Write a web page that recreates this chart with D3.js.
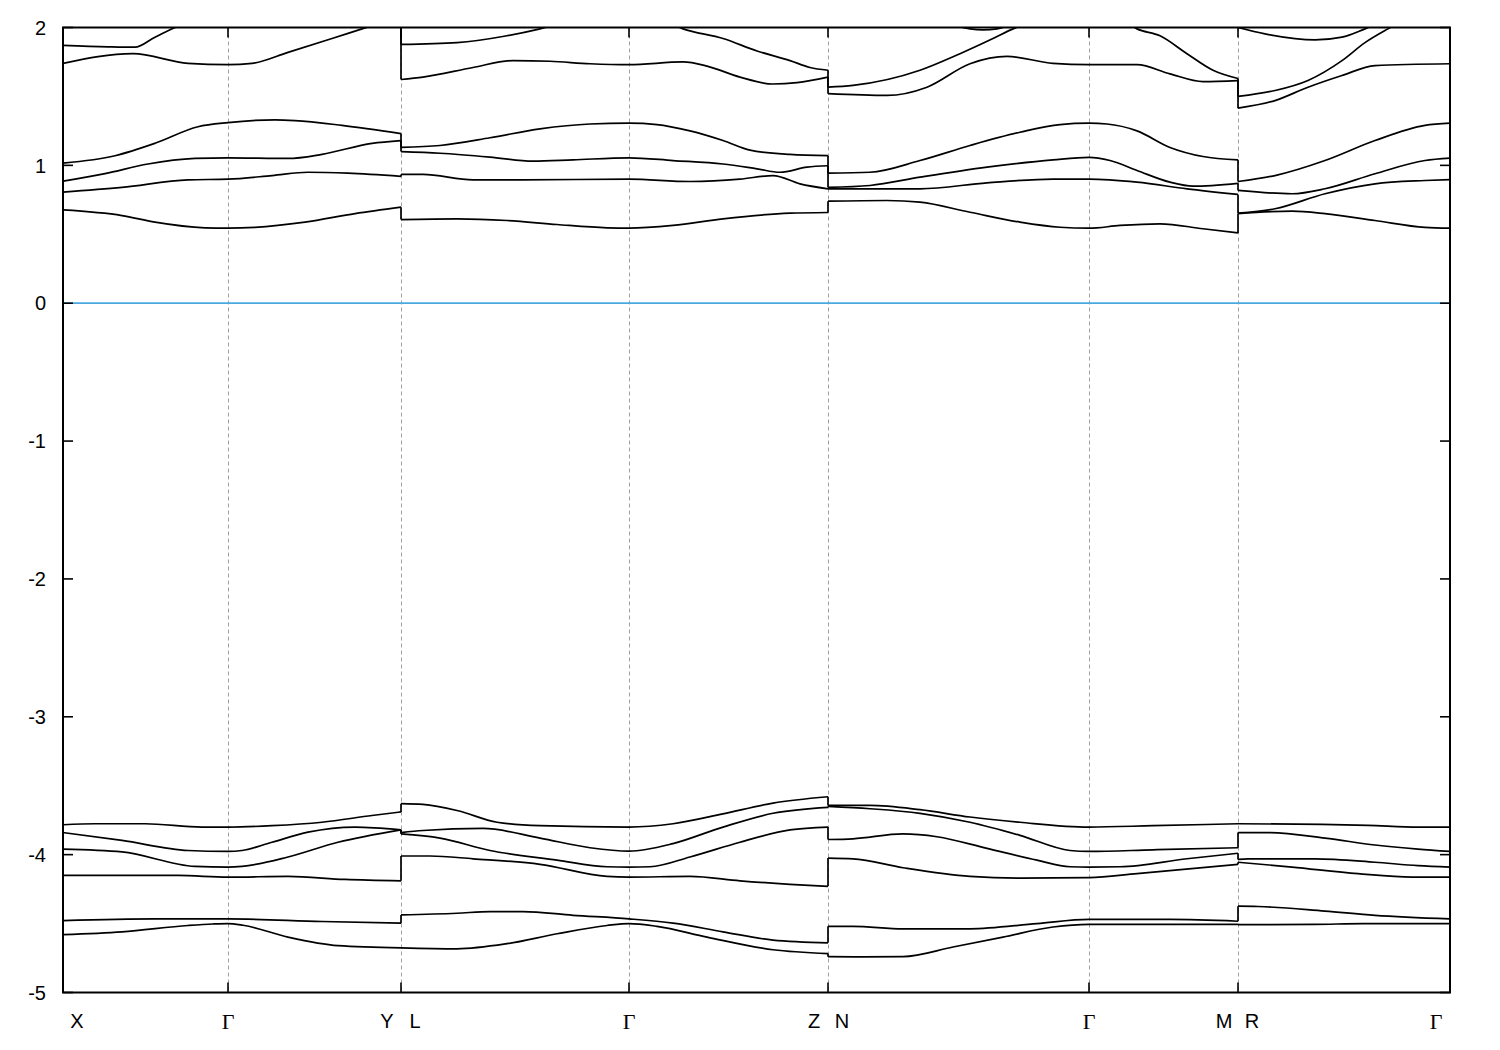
<!DOCTYPE html>
<html>
<head>
<meta charset="utf-8">
<script src="https://cdn.jsdelivr.net/npm/d3@7/dist/d3.min.js"></script>
<style>
  html, body { margin: 0; padding: 0; background: #ffffff; }
  svg { display: block; }
</style>
</head>
<body>
<svg id="chart" width="1500" height="1050"></svg>
<script>
// ---------------- DATA ----------------
// high-symmetry points along the k-path (path distance)
const kTicks  = [0, 0.165, 0.338, 0.566, 0.765, 1.026, 1.175, 1.387];
const kLabels = ["X", "Γ", "Y|L", "Γ", "Z|N", "Γ", "M|R", "Γ"];
const yTicks  = [-5, -4, -3, -2, -1, 0, 1, 2];
const yDomain = [-5, 2];
const fermiLevel = 0;

// Each band: list of path segments (X-Γ-Y, L-Γ-Z, N-Γ-M, R-Γ), each a list of [k, E(eV)]
const bandL1 = [
  [[0,-4.58],[0.059,-4.56],[0.125,-4.514],[0.150,-4.503],[0.165,-4.50],[0.180,-4.512],[0.225,-4.598],[0.275,-4.66],[0.338,-4.676]],
  [[0.338,-4.676],[0.394,-4.683],[0.444,-4.646],[0.494,-4.574],[0.544,-4.514],[0.566,-4.50],[0.594,-4.52],[0.644,-4.598],[0.710,-4.69],[0.765,-4.718]],
  [[0.765,-4.74],[0.800,-4.742],[0.840,-4.74],[0.890,-4.67],[0.940,-4.598],[0.990,-4.525],[1.026,-4.506],[1.090,-4.506],[1.175,-4.506]],
  [[1.175,-4.508],[1.252,-4.506],[1.300,-4.50],[1.387,-4.50]]
];
const bandL2 = [
  [[0,-4.478],[0.092,-4.466],[0.165,-4.466],[0.259,-4.485],[0.338,-4.497]],
  [[0.338,-4.437],[0.394,-4.425],[0.427,-4.413],[0.460,-4.413],[0.510,-4.44],[0.566,-4.466],[0.610,-4.497],[0.660,-4.56],[0.710,-4.62],[0.765,-4.64]],
  [[0.765,-4.52],[0.790,-4.52],[0.840,-4.538],[0.907,-4.538],[0.974,-4.50],[1.026,-4.47],[1.107,-4.47],[1.175,-4.483]],
  [[1.175,-4.374],[1.195,-4.376],[1.262,-4.41],[1.312,-4.44],[1.387,-4.466]]
];
const bandL3 = [
  [[0,-4.151],[0.115,-4.151],[0.165,-4.163],[0.225,-4.158],[0.282,-4.18],[0.338,-4.19]],
  [[0.338,-4.01],[0.367,-4.01],[0.410,-4.03],[0.477,-4.07],[0.544,-4.158],[0.566,-4.163],[0.627,-4.158],[0.677,-4.19],[0.727,-4.215],[0.765,-4.23]],
  [[0.765,-4.025],[0.790,-4.03],[0.840,-4.095],[0.907,-4.158],[0.957,-4.17],[1.026,-4.167],[1.074,-4.138],[1.175,-4.07]],
  [[1.175,-4.055],[1.229,-4.09],[1.295,-4.138],[1.349,-4.163],[1.387,-4.163]]
];
const bandL4 = [
  [[0,-3.96],[0.059,-3.98],[0.132,-4.085],[0.165,-4.09],[0.179,-4.085],[0.225,-4.017],[0.275,-3.91],[0.338,-3.82]],
  [[0.338,-3.85],[0.377,-3.88],[0.427,-3.97],[0.494,-4.04],[0.544,-4.088],[0.566,-4.09],[0.587,-4.088],[0.627,-4.017],[0.677,-3.91],[0.727,-3.82],[0.765,-3.80]],
  [[0.765,-3.89],[0.790,-3.885],[0.840,-3.85],[0.874,-3.87],[0.924,-3.955],[0.974,-4.04],[1.007,-4.088],[1.026,-4.09],[1.057,-4.088],[1.124,-4.03],[1.175,-3.99]],
  [[1.175,-4.035],[1.185,-4.03],[1.252,-4.03],[1.312,-4.055],[1.355,-4.08],[1.387,-4.09]]
];
const bandL5 = [
  [[0,-3.84],[0.059,-3.897],[0.125,-3.97],[0.165,-3.977],[0.179,-3.97],[0.209,-3.91],[0.245,-3.837],[0.292,-3.80],[0.338,-3.82]],
  [[0.338,-3.84],[0.360,-3.825],[0.420,-3.81],[0.477,-3.88],[0.527,-3.95],[0.566,-3.975],[0.610,-3.92],[0.660,-3.80],[0.710,-3.70],[0.765,-3.657]],
  [[0.765,-3.65],[0.807,-3.667],[0.857,-3.70],[0.907,-3.765],[0.957,-3.86],[1.007,-3.97],[1.026,-3.977],[1.090,-3.965],[1.175,-3.95]],
  [[1.175,-3.84],[1.205,-3.84],[1.262,-3.88],[1.312,-3.93],[1.355,-3.96],[1.387,-3.977]]
];
const bandL6 = [
  [[0,-3.783],[0.032,-3.776],[0.082,-3.776],[0.139,-3.80],[0.165,-3.80],[0.209,-3.79],[0.259,-3.765],[0.309,-3.716],[0.338,-3.69]],
  [[0.338,-3.63],[0.360,-3.636],[0.394,-3.68],[0.434,-3.765],[0.477,-3.79],[0.566,-3.80],[0.610,-3.776],[0.660,-3.704],[0.710,-3.626],[0.765,-3.58]],
  [[0.765,-3.643],[0.807,-3.643],[0.857,-3.674],[0.907,-3.727],[0.957,-3.765],[1.026,-3.80],[1.090,-3.79],[1.175,-3.776]],
  [[1.175,-3.776],[1.259,-3.78],[1.305,-3.787],[1.355,-3.80],[1.387,-3.80]]
];
const bandM1 = [
  [[0,0.677],[0.059,0.636],[0.092,0.588],[0.142,0.547],[0.165,0.544],[0.192,0.55],[0.242,0.588],[0.292,0.65],[0.338,0.697]],
  [[0.338,0.607],[0.394,0.612],[0.444,0.60],[0.494,0.571],[0.544,0.547],[0.566,0.544],[0.610,0.564],[0.660,0.612],[0.727,0.653],[0.765,0.658]],
  [[0.765,0.74],[0.824,0.745],[0.857,0.733],[0.907,0.66],[0.957,0.588],[0.997,0.551],[1.026,0.544],[1.057,0.564],[1.097,0.576],[1.140,0.54],[1.175,0.51]],
  [[1.175,0.65],[1.229,0.668],[1.262,0.65],[1.312,0.60],[1.362,0.55],[1.387,0.544]]
];
const bandM2 = [
  [[0,0.806],[0.059,0.84],[0.125,0.895],[0.165,0.90],[0.209,0.926],[0.245,0.95],[0.285,0.943],[0.338,0.92]],
  [[0.338,0.934],[0.360,0.934],[0.410,0.895],[0.460,0.895],[0.566,0.90],[0.627,0.883],[0.677,0.90],[0.710,0.926],[0.737,0.866],[0.765,0.83]],
  [[0.765,0.83],[0.857,0.83],[0.924,0.873],[0.990,0.90],[1.026,0.90],[1.074,0.878],[1.124,0.83],[1.175,0.789]],
  [[1.175,0.653],[1.212,0.685],[1.262,0.794],[1.312,0.866],[1.362,0.89],[1.387,0.897]]
];
const bandM3 = [
  [[0,0.885],[0.042,0.94],[0.085,1.01],[0.132,1.05],[0.165,1.055],[0.225,1.05],[0.259,1.08],[0.309,1.16],[0.338,1.18]],
  [[0.338,1.10],[0.377,1.088],[0.427,1.06],[0.470,1.03],[0.510,1.04],[0.566,1.055],[0.610,1.035],[0.660,1.01],[0.694,0.975],[0.717,0.95],[0.744,0.987],[0.765,0.997]],
  [[0.765,0.84],[0.807,0.854],[0.857,0.914],[0.924,0.987],[0.990,1.04],[1.026,1.058],[1.047,1.035],[1.074,0.963],[1.107,0.878],[1.130,0.849],[1.175,0.87]],
  [[1.175,0.818],[1.229,0.794],[1.262,0.83],[1.312,0.939],[1.362,1.035],[1.387,1.052]]
];
const bandM4 = [
  [[0,1.016],[0.052,1.07],[0.092,1.16],[0.135,1.28],[0.165,1.31],[0.212,1.33],[0.232,1.325],[0.279,1.29],[0.338,1.23]],
  [[0.338,1.13],[0.377,1.144],[0.427,1.20],[0.477,1.265],[0.527,1.30],[0.566,1.306],[0.594,1.296],[0.627,1.25],[0.660,1.18],[0.687,1.11],[0.727,1.079],[0.765,1.07]],
  [[0.765,0.943],[0.807,0.95],[0.857,1.035],[0.907,1.144],[0.957,1.24],[0.997,1.296],[1.026,1.306],[1.044,1.30],[1.074,1.25],[1.107,1.13],[1.140,1.064],[1.175,1.04]],
  [[1.175,0.883],[1.212,0.926],[1.262,1.035],[1.312,1.18],[1.362,1.29],[1.387,1.306]]
];
const bandU1 = [
  [[0,1.74],[0.070,1.81],[0.125,1.74],[0.165,1.73],[0.189,1.74],[0.225,1.82],[0.269,1.92],[0.299,1.99],[0.338,2.08]],
  [[0.338,1.623],[0.360,1.64],[0.410,1.71],[0.450,1.76],[0.487,1.755],[0.527,1.737],[0.566,1.73],[0.620,1.75],[0.644,1.72],[0.677,1.64],[0.710,1.59],[0.734,1.60],[0.765,1.64]],
  [[0.765,1.52],[0.824,1.507],[0.864,1.567],[0.907,1.737],[0.944,1.79],[0.990,1.74],[1.026,1.73],[1.074,1.73],[1.107,1.664],[1.140,1.608],[1.175,1.615]],
  [[1.175,1.415],[1.212,1.47],[1.245,1.567],[1.279,1.652],[1.312,1.724],[1.387,1.737]]
];
const bandU2 = [
  [[0,1.87],[0.045,1.86],[0.072,1.857],[0.092,1.93],[0.112,2.0],[0.165,2.15],[0.250,2.2],[0.338,2.15]],
  [[0.338,1.877],[0.394,1.89],[0.444,1.94],[0.477,1.99],[0.530,2.1],[0.580,2.12],[0.620,1.99],[0.660,1.92],[0.694,1.83],[0.727,1.76],[0.747,1.71],[0.765,1.69]],
  [[0.765,1.567],[0.790,1.58],[0.857,1.69],[0.897,1.81],[0.930,1.92],[0.950,1.99],[1.000,2.1],[1.050,2.1],[1.074,1.99],[1.097,1.94],[1.124,1.81],[1.150,1.69],[1.175,1.63]],
  [[1.175,1.50],[1.212,1.543],[1.245,1.616],[1.279,1.76],[1.302,1.89],[1.325,1.99],[1.387,2.2]]
];
const bandU3 = [
  [[0.765,2.2],[0.880,2.04],[0.907,1.99],[0.920,1.983],[0.934,1.99],[0.960,2.05],[1.026,2.1],[1.175,2.15]],
  [[1.175,2.0],[1.202,1.954],[1.252,1.91],[1.279,1.93],[1.302,1.99],[1.387,2.3]]
];

const bands = [bandL1, bandL2, bandL3, bandL4, bandL5, bandL6,
               bandM1, bandM2, bandM3, bandM4, bandU1, bandU2, bandU3];

// ---------------- LAYOUT ----------------
const plotL = 63, plotR = 1450, plotT = 27.5, plotB = 992.5;
const svg = d3.select("#chart");

const x = d3.scaleLinear().domain([kTicks[0], kTicks[kTicks.length - 1]]).range([plotL, plotR]);
const y = d3.scaleLinear().domain(yDomain).range([plotB, plotT]);

svg.append("defs").append("clipPath").attr("id", "plotclip")
  .append("rect").attr("x", plotL).attr("y", plotT).attr("width", plotR - plotL).attr("height", plotB - plotT);

// vertical dashed lines at high-symmetry points
svg.append("g").selectAll("line")
  .data(kTicks.slice(1, -1))
  .join("line")
  .attr("x1", d => Math.round(x(d)) + 0.5).attr("x2", d => Math.round(x(d)) + 0.5)
  .attr("y1", plotT).attr("y2", plotB)
  .attr("stroke", "#a0a0a0").attr("stroke-width", 1)
  .attr("stroke-dasharray", "4,3");

// Fermi level
svg.append("line")
  .attr("x1", plotL).attr("x2", plotR)
  .attr("y1", y(fermiLevel)).attr("y2", y(fermiLevel))
  .attr("stroke", "#4AA8E0").attr("stroke-width", 1.8);

// bands
const line = d3.line().x(d => x(d[0])).y(d => y(d[1])).curve(d3.curveMonotoneX);
const gBands = svg.append("g").attr("clip-path", "url(#plotclip)")
  .attr("fill", "none").attr("stroke", "#000").attr("stroke-width", 1.7)
  .attr("stroke-linejoin", "round");

bands.forEach(band => {
  band.forEach((seg, i) => {
    gBands.append("path").attr("d", line(seg));
    if (i < band.length - 1) {
      const a = seg[seg.length - 1], b = band[i + 1][0];
      gBands.append("line")
        .attr("x1", x(a[0])).attr("y1", y(a[1]))
        .attr("x2", x(b[0])).attr("y2", y(b[1]));
    }
  });
});

// border
svg.append("rect")
  .attr("x", plotL).attr("y", plotT).attr("width", plotR - plotL).attr("height", plotB - plotT)
  .attr("fill", "none").attr("stroke", "#000").attr("stroke-width", 2);

// ticks (inward, both sides)
const tickLen = 10;
const gTicks = svg.append("g").attr("stroke", "#000").attr("stroke-width", 1.6);
yTicks.forEach(v => {
  gTicks.append("line").attr("x1", plotL).attr("x2", plotL + tickLen).attr("y1", y(v)).attr("y2", y(v));
  gTicks.append("line").attr("x1", plotR - tickLen).attr("x2", plotR).attr("y1", y(v)).attr("y2", y(v));
});
kTicks.forEach(k => {
  gTicks.append("line").attr("x1", x(k)).attr("x2", x(k)).attr("y1", plotB).attr("y2", plotB - tickLen);
  gTicks.append("line").attr("x1", x(k)).attr("x2", x(k)).attr("y1", plotT).attr("y2", plotT + tickLen);
});

// y tick labels
svg.append("g").selectAll("text")
  .data(yTicks)
  .join("text")
  .attr("x", 46).attr("y", d => y(d))
  .attr("dy", "0.36em")
  .attr("text-anchor", "end")
  .attr("font-family", "'Liberation Sans', Arial, sans-serif")
  .attr("font-size", 20)
  .attr("fill", "#000")
  .text(d => d);

// x tick labels
const gX = svg.append("g");
const labY = 1021;
function putLabel(txt, px) {
  gX.append("text")
    .attr("x", px).attr("y", labY).attr("dy", "0.36em")
    .attr("text-anchor", "middle")
    .attr("font-family", txt === "Γ" ? "'Liberation Serif', 'Times New Roman', serif" : "'Liberation Sans', Arial, sans-serif")
    .attr("font-size", txt === "Γ" ? 22 : 20)
    .attr("fill", "#000")
    .text(txt);
}
kLabels.forEach((lab, i) => {
  const px = x(kTicks[i]);
  const parts = lab.split("|");
  if (parts.length === 2) {
    putLabel(parts[0], px - 14);
    putLabel(parts[1], px + 14);
  } else if (i === 0) {
    putLabel(lab, px + 14);
  } else if (i === kLabels.length - 1) {
    putLabel(lab, px - 14);
  } else {
    putLabel(lab, px);
  }
});
</script>
</body>
</html>
